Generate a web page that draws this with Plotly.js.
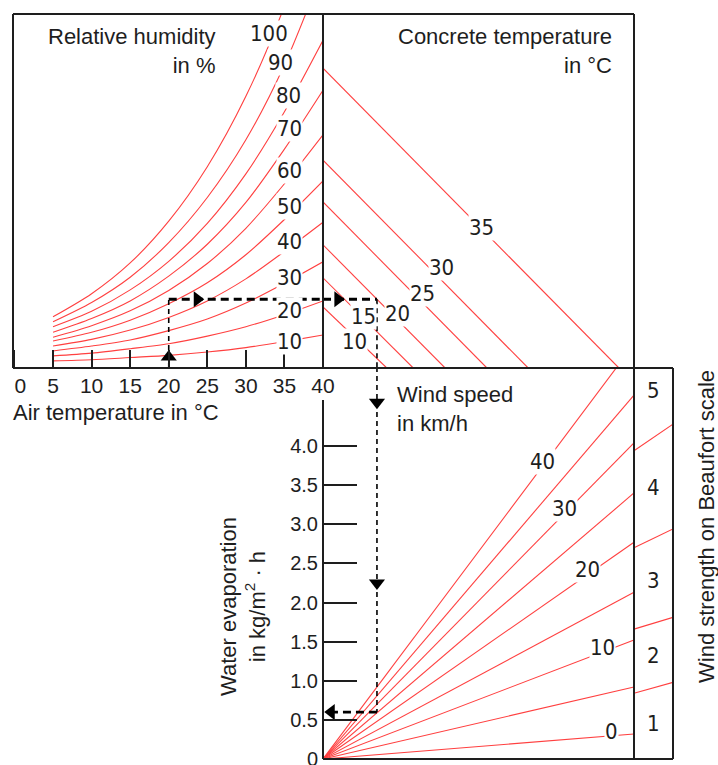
<!DOCTYPE html>
<html><head><meta charset="utf-8">
<script src="https://cdn.plot.ly/plotly-3.0.1.min.js"></script>
<style>html,body{margin:0;padding:0;background:#fff}#chart{width:718px;height:765px}</style>
</head><body><div id="chart"></div>
<script>
// ---------------- DATA ----------------
// Top-left: relative humidity curves, vapour pressure (hPa, hidden scale) vs air temperature
const airTemps = [5, 10, 15, 20, 25, 30, 35, 40];
const humidityLevels = [10, 20, 30, 40, 50, 60, 70, 80, 90, 100];
const rh10  = [1.3, 1.5, 1.9, 2.3, 2.9, 3.7, 4.8, 6.0];
const rh20  = [2.2, 2.7, 3.5, 4.4, 5.8, 7.5, 9.7, 12.2];
const rh30  = [3.1, 4.0, 5.1, 6.8, 8.9, 11.8, 15.4, 19.3];
const rh40  = [4.0, 5.2, 6.9, 9.2, 12.2, 16.2, 21.2, 26.5];
const rh50  = [4.9, 6.5, 8.7, 11.7, 15.5, 20.6, 27.0, 34.0];
const rh60  = [5.6, 7.7, 10.4, 14.1, 19.0, 25.4, 33.5, 42.4];
const rh70  = [6.5, 9.0, 12.2, 16.7, 22.5, 30.1, 39.8, 50.5];
const rh80  = [7.5, 10.3, 14.2, 19.4, 26.3, 35.3, 46.6, 59.6];
const rh90  = [8.4, 11.9, 16.5, 22.8, 31.0, 41.5, 55.1, 72.4];
const rh100 = [9.3, 13.5, 19.1, 26.7, 36.6, 49.4, 65.8, 86.7];
const humidityCurves = [rh10, rh20, rh30, rh40, rh50, rh60, rh70, rh80, rh90, rh100];

// Top-right: concrete temperature lines (vapour pressure at left edge, difference at bottom)
const concreteTemps = [10, 15, 20, 25, 30, 35];
const concreteStartVapour = [11.1, 16.4, 22.4, 30.2, 37.8, 54.5];
const concreteEndDiff = [11.6, 16.4, 22.2, 29.8, 37.3, 53.8];

// Bottom-right: wind speed lines (evaporation reached at the panel's right edge)
const windSpeeds = [0, 5, 10, 15, 20, 25, 30, 35, 40];
const windEvapAtEdge = [0.32, 0.92, 1.52, 2.13, 2.77, 3.40, 4.04, 4.65, 5.30];
const windLabelled = [0, 10, 20, 30, 40];

// Beaufort strip: class boundaries (evaporation at inner and outer edge of strip)
const beaufortGrades = [1, 2, 3, 4, 5];
const beaufortBoundInner = [0.84, 1.66, 2.70, 3.94];
const beaufortBoundOuter = [0.98, 1.81, 2.94, 4.28];

// Evaporation axis
const evapTicks = [0, 0.5, 1.0, 1.5, 2.0, 2.5, 3.0, 3.5, 4.0];
const evapTickText = ['0', '0.5', '1.0', '1.5', '2.0', '2.5', '3.0', '3.5', '4.0'];
// Air temperature axis
const airTicks = [0, 5, 10, 15, 20, 25, 30, 35, 40];

// Worked example (dashed path)
const exAirTemp = 20;
const exVapour = 12.5;
const exConcrete = 20;
const exEvap = 0.6;

// ---------------- LAYOUT GEOMETRY ----------------
const W = 718, H = 765;
const PX = p => p / W;
const PY = p => 1 - p / H;
const VP = 5.5;                  // px per hPa on hidden vapour axes
const EVP = 78.25;               // px per kg/m²h
const EDGE = (634 - 323) / VP;   // right edge of main panels in x2 units
const STRIP = (673 - 323) / VP;  // right edge of Beaufort strip
const EVTOP = (759 - 367) / EVP;

const RED = '#ff4040';
const INK = '#1e1e1e';
const FONT = 'Liberation Sans, Arial, sans-serif';
const NARROW = 'Liberation Sans Narrow, DejaVu Sans Condensed, Liberation Sans, sans-serif';

const traces = [];
humidityCurves.forEach(c => traces.push({
  x: airTemps, y: c, xaxis: 'x', yaxis: 'y', mode: 'lines', hoverinfo: 'skip',
  line: {color: RED, width: 1.1, shape: 'spline', smoothing: 0.8}
}));
concreteTemps.forEach((t, i) => traces.push({
  x: [0, concreteEndDiff[i]], y: [concreteStartVapour[i], 0], xaxis: 'x2', yaxis: 'y',
  mode: 'lines', hoverinfo: 'skip', line: {color: RED, width: 1.1}
}));
windSpeeds.forEach((v, i) => traces.push({
  x: [0, EDGE], y: [0, windEvapAtEdge[i]], xaxis: 'x2', yaxis: 'y3',
  mode: 'lines', hoverinfo: 'skip', line: {color: RED, width: 1.1}
}));
beaufortBoundInner.forEach((b, i) => traces.push({
  x: [EDGE, STRIP], y: [b, beaufortBoundOuter[i]], xaxis: 'x2', yaxis: 'y3',
  mode: 'lines', hoverinfo: 'skip', line: {color: RED, width: 1.1}
}));

// example path
const ci = concreteTemps.indexOf(exConcrete);
const exDiff = concreteEndDiff[ci] * (1 - exVapour / concreteStartVapour[ci]);
const thin = {color: '#000', width: 1.6, dash: '5px,4px'};
const thick = {color: '#000', width: 2.8, dash: '8px,5px'};
traces.push({x: [exAirTemp, exAirTemp], y: [0, exVapour], xaxis: 'x', yaxis: 'y', mode: 'lines', line: thin, hoverinfo: 'skip'});
traces.push({x: [exAirTemp, 40], y: [exVapour, exVapour], xaxis: 'x', yaxis: 'y', mode: 'lines', line: thick, hoverinfo: 'skip'});
traces.push({x: [0, exDiff], y: [exVapour, exVapour], xaxis: 'x2', yaxis: 'y', mode: 'lines', line: thick, hoverinfo: 'skip'});
traces.push({x: [exDiff, exDiff], y: [exVapour, 0], xaxis: 'x2', yaxis: 'y', mode: 'lines', line: thin, hoverinfo: 'skip'});
traces.push({x: [exDiff, exDiff], y: [EVTOP, exEvap], xaxis: 'x2', yaxis: 'y3', mode: 'lines', line: thin, hoverinfo: 'skip'});
traces.push({x: [exDiff, 1.0], y: [exEvap, exEvap], xaxis: 'x2', yaxis: 'y3', mode: 'lines', line: thick, hoverinfo: 'skip'});
// arrow heads
const arrow = (x, y, xa, ya, sym) => traces.push({x: [x], y: [y], xaxis: xa, yaxis: ya, mode: 'markers',
  hoverinfo: 'skip', marker: {symbol: sym, size: 14, color: '#000', line: {width: 0}}});
arrow(exAirTemp, 2.0, 'x', 'y', 'triangle-up');
arrow(23.7, exVapour, 'x', 'y', 'triangle-right');
arrow(2.7, exVapour, 'x2', 'y', 'triangle-right');
arrow(exDiff, 4.56, 'x2', 'y3', 'triangle-down');
arrow(exDiff, 2.25, 'x2', 'y3', 'triangle-down');
arrow(1.5, exEvap, 'x2', 'y3', 'triangle-left');

// ---------------- ANNOTATIONS ----------------
const ann = [];
const lbl = (text, x, y, xref, yref, size) => ann.push({text: String(text), x, y, xref, yref,
  showarrow: false, bgcolor: 'white', borderpad: 0, font: {family: NARROW, size: size || 22, color: INK}});
// humidity label placement (air temp, vapour)
const humLabelPos = [[35.6, 4.9], [35.6, 10.5], [35.6, 16.5], [35.6, 23.0], [35.6, 29.3],
  [35.6, 36.0], [35.6, 43.6], [35.5, 49.6], [34.5, 55.6], [33.05, 60.9]];
humidityLevels.forEach((h, i) => lbl(h, humLabelPos[i][0], humLabelPos[i][1], 'x', 'y'));
const concLabelPos = [[5.8, 4.9], [7.3, 9.3], [13.5, 10.0], [18.0, 13.6], [21.5, 18.2], [28.9, 25.6]];
concreteTemps.forEach((t, i) => lbl(t, concLabelPos[i][0], concLabelPos[i][1], 'x2', 'y'));
const windLabelFrac = {0: 0.928, 10: 0.9, 20: 0.852, 30: 0.778, 40: 0.707};
windLabelled.forEach(v => {
  const i = windSpeeds.indexOf(v), f = windLabelFrac[v];
  lbl(v, EDGE * f, windEvapAtEdge[i] * f + 0.06, 'x2', 'y3');
});
const bounds = [0].concat(beaufortBoundInner.map((b, i) => (b + beaufortBoundOuter[i]) / 2), [5.3]);
beaufortGrades.forEach((g, i) => ann.push({text: String(g), x: (EDGE + STRIP) / 2, y: (bounds[i] + bounds[i + 1]) / 2,
  xref: 'x2', yref: 'y3', showarrow: false, font: {family: NARROW, size: 22, color: INK}}));

const txt = (text, x, y, xanchor, yanchor, align, extra) => ann.push(Object.assign({text, x: PX(x), y: PY(y),
  xref: 'paper', yref: 'paper', xanchor, yanchor, align, showarrow: false,
  font: {family: FONT, size: 22, color: INK}}, extra || {}));
txt('Relative humidity<br>in %', 218, 51, 'right', 'middle', 'right');
txt('Concrete temperature<br>in °C', 614, 51, 'right', 'middle', 'right');
txt('Air temperature in °C', 11, 412, 'left', 'middle', 'left');
txt('Wind speed<br>in km/h', 395, 409, 'left', 'middle', 'left');
txt('Water evaporation<br>in kg/m<sup>2</sup> · h', 243, 607, 'center', 'middle', 'center', {textangle: -90});
txt('Wind strength on Beaufort scale', 706, 527, 'center', 'middle', 'center', {textangle: -90});

// ---------------- FRAME ----------------
const seg = (x0, y0, x1, y1) => ({type: 'line', xref: 'paper', yref: 'paper',
  x0: PX(x0), y0: PY(y0), x1: PX(x1), y1: PY(y1), line: {color: INK, width: 2}});
const shapes = [
  seg(13, 14, 634, 14), seg(13, 14, 13, 368), seg(13, 368, 673, 368), seg(323, 14, 323, 368),
  seg(634, 14, 634, 759), seg(673, 368, 673, 759), seg(323, 759, 673, 759), seg(323, 400, 323, 759)
];

const layout = {
  width: W, height: H, margin: {l: 0, r: 0, t: 0, b: 0}, showlegend: false,
  paper_bgcolor: 'white', plot_bgcolor: 'rgba(0,0,0,0)',
  font: {family: FONT, color: INK},
  xaxis: {domain: [PX(13), PX(323)], range: [-0.19, 40], anchor: 'y', showgrid: false, zeroline: false,
    showline: false, ticks: 'inside', ticklen: 18, tickwidth: 2, tickcolor: INK,
    tickvals: airTicks, ticktext: airTicks.map(t => t === 0 ? '\u00a0\u00a00' : String(t)), ticklabelstandoff: 3,
    ticklabeloverflow: 'allow', tickfont: {family: FONT, size: 21, color: INK}},
  yaxis: {domain: [PY(368), PY(14)], range: [0, (368 - 14) / VP], anchor: 'x', visible: false},
  xaxis2: {domain: [PX(323), PX(673)], range: [0, STRIP], anchor: 'y3', visible: false},
  yaxis3: {domain: [PY(759), PY(367)], range: [0, EVTOP], anchor: 'x2', showgrid: false, zeroline: false,
    showline: false, ticks: 'inside', ticklen: 34, tickwidth: 2, tickcolor: INK,
    tickvals: evapTicks, ticktext: evapTickText, ticklabelstandoff: 4, ticklabeloverflow: 'allow',
    tickfont: {family: FONT, size: 20, color: INK}},
  annotations: ann, shapes: shapes
};
Plotly.newPlot('chart', traces, layout, {displayModeBar: false, staticPlot: true});
</script></body></html>
